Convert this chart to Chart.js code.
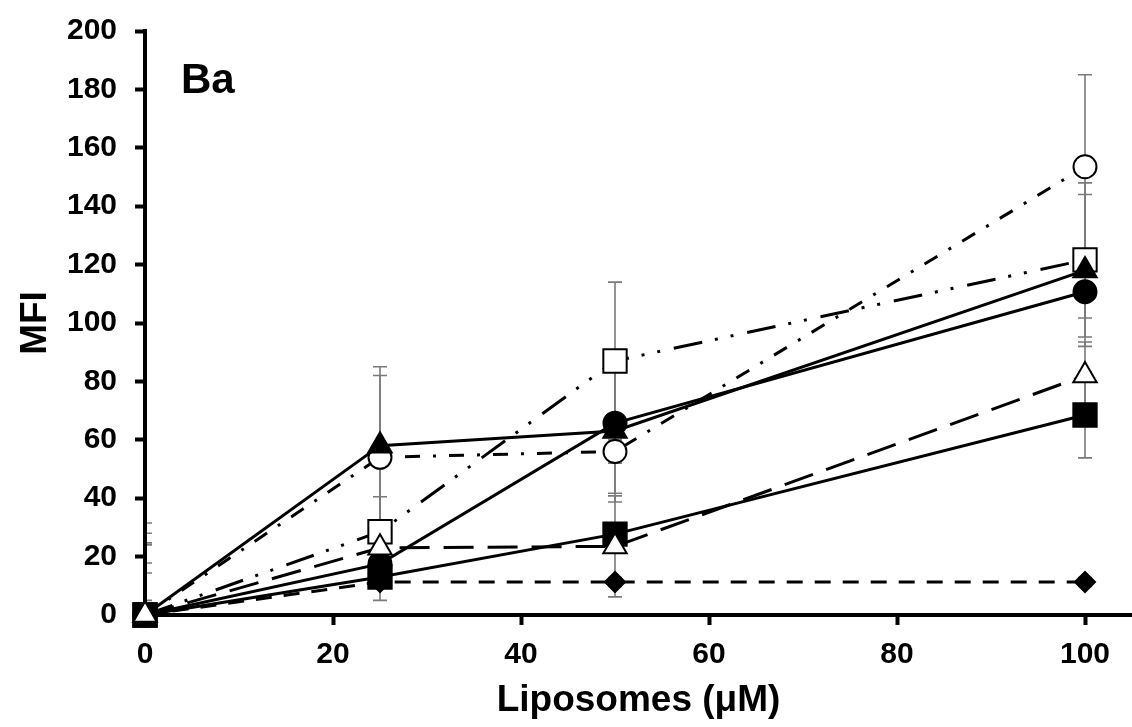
<!DOCTYPE html>
<html>
<head>
<meta charset="utf-8">
<title>MFI vs Liposomes</title>
<script src="https://cdn.jsdelivr.net/npm/chart.js@4.4.1/dist/chart.umd.min.js"></script>
<style>
  html, body { margin: 0; padding: 0; background: #fff; }
  #wrap { width: 1132px; height: 727px; position: relative; }
</style>
</head>
<body>
<div id="wrap"><canvas id="mfiChart"></canvas></div>
<script>
// --- Datos ---
const xValues = [0, 25, 50, 100];
const xTickValues = [0, 20, 40, 60, 80, 100];
const yTickValues = [0, 20, 40, 60, 80, 100, 120, 140, 160, 180, 200];

// series (MFI)
const filledTriangle = [0, 58, 63, 118];
const openCircle     = [0, 54, 56, 153.5];
const openSquare     = [0, 28.5, 87, 121.6];
const filledSquare   = [0, 13, 27.7, 68.5];
const filledCircle   = [0, 17.5, 65.7, 110.7];
const openTriangle   = [0, 23, 23.5, 82];
const filledDiamond  = [0, 11.3, 11.3, 11.3];

// barras de error (+/-)
const errFilledTriangle = [31.5, 27, 24.3, 26];
const errOpenCircle     = [28, 28, 4, 31.5];
const errOpenSquare     = [24.7, 12, 27, 26.4];
const errFilledSquare   = [24, 8, 2, 14.7];
const errFilledCircle   = [17.8, 3, 24, 9];
const errOpenTriangle   = [14.4, 3, 17.3, 11.5];
const errFilledDiamond  = [5, 2, 1.5, 1.5];

const panelLabel = 'Ba';
const xTitle = 'Liposomes (μM)';
const yTitle = 'MFI';

// -------------------- helpers --------------------
const toPoints = (vals) => xValues.map((x, i) => ({ x: x, y: vals[i] }));

function serie(vals, errs, style, fill, radius, dash) {
  return {
    data: toPoints(vals),
    errors: errs,
    borderColor: '#000',
    borderWidth: 3,
    borderDash: dash,
    tension: 0,
    fill: false,
    pointStyle: style,
    pointRadius: radius,
    pointBackgroundColor: fill,
    pointBorderColor: '#000',
    pointBorderWidth: 2,
    clip: false
  };
}

// barras de error: se dibujan antes que ejes y series
const errorBars = {
  id: 'errorBars',
  beforeDraw(chart) {
    const { ctx, chartArea, scales } = chart;
    const xs = scales.x, ys = scales.y;
    ctx.save();
    ctx.beginPath();
    ctx.rect(chartArea.left, chartArea.top - 60, chartArea.width, chartArea.height + 60);
    ctx.clip();
    ctx.strokeStyle = '#7a7a7a';
    ctx.lineWidth = 1.6;
    chart.data.datasets.forEach(ds => {
      ds.data.forEach((p, i) => {
        const e = ds.errors[i];
        const px = xs.getPixelForValue(p.x);
        const top = ys.getPixelForValue(p.y + e);
        const bot = ys.getPixelForValue(Math.max(p.y - e, 0));
        ctx.beginPath();
        ctx.moveTo(px, top); ctx.lineTo(px, bot);
        ctx.moveTo(px - 7, top); ctx.lineTo(px + 7, top);
        if (p.y - e >= 0) { ctx.moveTo(px - 7, bot); ctx.lineTo(px + 7, bot); }
        ctx.stroke();
      });
    });
    ctx.restore();
  }
};

// etiqueta del panel
const panelTag = {
  id: 'panelTag',
  afterDraw(chart) {
    const ctx = chart.ctx;
    ctx.save();
    ctx.font = "bold 42px 'Liberation Sans', Arial, sans-serif";
    ctx.fillStyle = '#000';
    ctx.textBaseline = 'alphabetic';
    ctx.fillText(panelLabel, 181, 93);
    ctx.restore();
  }
};

Chart.defaults.font.family = "'Liberation Sans', Arial, sans-serif";
Chart.defaults.color = '#000';

const ctx = document.getElementById('mfiChart').getContext('2d');
new Chart(ctx, {
  type: 'line',
  data: {
    datasets: [
      serie(openTriangle,  errOpenTriangle,  'triangle', '#fff', 13.5, [30, 14]),
      serie(filledTriangle, errFilledTriangle, 'triangle', '#000', 13.5, []),
      serie(filledSquare,  errFilledSquare,  'rect',     '#000', 16.5, []),
      serie(openSquare,    errOpenSquare,    'rect',     '#fff', 16.5, [29, 13, 3, 13, 3, 14]),
      serie(filledCircle,  errFilledCircle,  'circle',   '#000', 11.5, []),
      serie(openCircle,    errOpenCircle,    'circle',   '#fff', 11.5, [15, 13, 3, 13]),
      serie(filledDiamond, errFilledDiamond, 'rectRot',  '#000', 10,   [16, 12])
    ]
  },
  options: {
    responsive: true,
    maintainAspectRatio: false,
    animation: false,
    events: [],
    layout: { autoPadding: false, padding: { top: 31, right: 0, bottom: 0, left: 0 } },
    plugins: { legend: { display: false }, tooltip: { enabled: false } },
    scales: {
      x: {
        type: 'linear',
        min: 0,
        max: 105,
        afterBuildTicks: (s) => { s.ticks = xTickValues.map(v => ({ value: v })); },
        afterFit: (s) => { s.height = 112; s.paddingLeft = 0; s.paddingRight = 0; },
        grid: { drawOnChartArea: false, drawTicks: true, tickLength: 10, tickWidth: 4, tickColor: '#000' },
        border: { color: '#000', width: 4 },
        ticks: { font: { size: 30, weight: 'bold' }, padding: 12, maxRotation: 0 },
        title: { display: true, text: xTitle, font: { size: 37, weight: 'bold' }, padding: { top: 0, bottom: 4 } }
      },
      y: {
        min: 0,
        max: 200,
        afterBuildTicks: (s) => { s.ticks = yTickValues.map(v => ({ value: v })); },
        afterFit: (s) => { s.width = 145; s.paddingTop = 0; s.paddingBottom = 0; },
        grid: { drawOnChartArea: false, drawTicks: true, tickLength: 10, tickWidth: 4, tickColor: '#000' },
        border: { color: '#000', width: 4 },
        ticks: { font: { size: 30, weight: 'bold' }, padding: 18 },
        title: { display: true, text: yTitle, font: { size: 37, weight: 'bold' }, padding: { top: 14, bottom: 0 } }
      }
    }
  },
  plugins: [errorBars, panelTag]
});
</script>
</body>
</html>
